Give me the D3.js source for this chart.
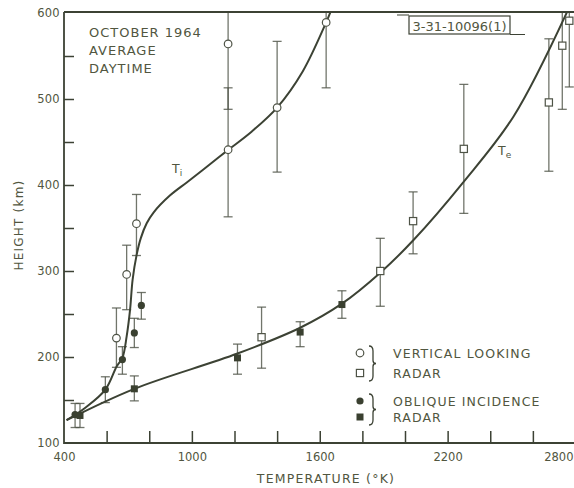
<!DOCTYPE html>
<html><head><meta charset="utf-8">
<script src="https://cdn.jsdelivr.net/npm/d3@7"></script>
<style>
html,body{margin:0;padding:0;background:#fff;}
svg{display:block;}
text{font-family:"DejaVu Sans",sans-serif;fill:#515640;}
</style></head>
<body>
<script>
// ---------- data ----------
const xTicks = [400,600,800,1000,1200,1400,1600,1800,2000,2200,2400,2600,2800];
const xTickLabels = [400,1000,1600,2200,2800];
const yTicks = [100,150,200,250,300,350,400,450,500,550,600];
const yTickLabels = [100,200,300,400,500,600];

// vertical looking radar, ion temperature (open circles): [T, H, low, high]
const viCircles = [
  [646,222,188,257],[694,296,255,330],[740,355,318,389],
  [1170,441,363,513],[1170,564,488,600],[1400,490,415,567],[1630,589,513,600]
];
// vertical looking radar, electron temperature (open squares)
const viSquares = [
  [1327,223,187,258],[1884,300,259,338],[2038,358,320,392],
  [2276,442,367,517],[2675,496,416,570],[2738,562,488,600],[2771,591,514,600]
];
// oblique incidence radar, ion (filled circles)
const obCircles = [
  [452,133,118,146],[594,162,147,177],[674,197,180,212],[730,228,211,245],[763,260,244,275]
];
// oblique incidence radar, electron (filled squares)
const obSquares = [
  [475,132,118,146],[730,163,149,178],[1214,199,180,215],[1508,229,212,241],[1704,261,245,277]
];
// fitted curves
const tiCurve = [[412,126.5],[500,141],[594,162],[647,189],[674,199],[694,224],[710,255],[722,290],
  [741,319],[760,338],[788,355.5],[820,368],[898,388],[976,403],[1054,418],[1166,440],[1280,462],
  [1400,490],[1520,532],[1630,589],[1650,601]];
const teCurve = [[412,126.5],[730,163],[1214,204],[1508,234],[1704,262],[1884,298],[2040,336],
  [2276,404],[2510,480],[2760,601]];

const legendItems = [
  {sym:"circleOpen", label:"VERTICAL LOOKING"},
  {sym:"squareOpen", label:"RADAR"},
  {sym:"circleFill", label:"OBLIQUE INCIDENCE"},
  {sym:"squareFill", label:"RADAR"}
];
const titleLines = ["OCTOBER 1964","AVERAGE","DAYTIME"];

// ---------- drawing ----------
const W=574,H=488;
const L=64,R=575.5,T=13,B=443;
const lineCol="#3c4234", barCol="#4e5346", textCol="#515640";
const x=d3.scaleLinear().domain([400,2800]).range([L,R]);
const y=d3.scaleLinear().domain([100,600]).range([B,T]);

const svg=d3.select("body").append("svg").attr("width",W).attr("height",H);
svg.append("defs").append("clipPath").attr("id","clip")
  .append("rect").attr("x",L).attr("y",T).attr("width",W-L).attr("height",B-T);

// axes with inward ticks
const xAxis=d3.axisBottom(x).tickValues(xTicks.slice(1,-1)).tickSize(-12).tickFormat("");
const gx=svg.append("g").attr("transform",`translate(0,${B})`).call(xAxis);
gx.select(".domain").remove();
gx.selectAll("line").attr("stroke",lineCol).attr("stroke-width",1.5);
const xl=d3.axisBottom(x).tickValues(xTickLabels).tickSize(0).tickPadding(10).tickFormat(d3.format("d"));
const gxl=svg.append("g").attr("transform",`translate(0,${B})`).call(xl);
gxl.select(".domain").remove();
gxl.selectAll("text").attr("font-size",11.5).attr("fill",textCol).style("font-family","DejaVu Sans");
// last label sits against the right edge of the picture
gxl.selectAll(".tick").filter(d=>d===2800).select("text").attr("text-anchor","end").attr("x",W-1-x(2800));

const yAxis=d3.axisLeft(y).tickValues(yTicks.slice(1,-1)).tickSize(-10).tickFormat("");
const gy=svg.append("g").attr("transform",`translate(${L},0)`).call(yAxis);
gy.select(".domain").remove();
gy.selectAll("line").attr("stroke",lineCol).attr("stroke-width",1.5);
const yl=d3.axisLeft(y).tickValues(yTickLabels).tickSize(0).tickPadding(4).tickFormat(d3.format("d"));
const gyl=svg.append("g").attr("transform",`translate(${L},0)`).call(yl);
gyl.select(".domain").remove();
gyl.selectAll("text").attr("font-size",11.5).attr("fill",textCol).attr("letter-spacing",0.3).style("font-family","DejaVu Sans");

// frame
svg.append("path").attr("d",`M${L},${T-1}H${W}M${L},${T-1}V${B}H${W}`)
  .attr("fill","none").attr("stroke",lineCol).attr("stroke-width",1.8);

// error bars
const pg=svg.append("g").attr("clip-path","url(#clip)");
function errBars(data){
  data.forEach(d=>{
    const cx=x(d[0]);
    pg.append("line").attr("x1",cx).attr("x2",cx).attr("y1",y(d[2])).attr("y2",y(d[3]))
      .attr("stroke",barCol).attr("stroke-width",1.3).attr("stroke-opacity",0.8);
    [d[2],d[3]].forEach(v=>{
      if(v<600) pg.append("line").attr("x1",cx-4.5).attr("x2",cx+4.5).attr("y1",y(v)).attr("y2",y(v))
        .attr("stroke",barCol).attr("stroke-width",1.3).attr("stroke-opacity",0.8);
    });
  });
}
[viCircles,viSquares,obCircles,obSquares].forEach(errBars);

// curves
const line=d3.line().x(d=>x(d[0])).y(d=>y(d[1])).curve(d3.curveCatmullRom.alpha(0.5));
[tiCurve,teCurve].forEach(c=>pg.append("path").attr("d",line(c)).attr("fill","none")
  .attr("stroke",lineCol).attr("stroke-width",2));

// markers
function marker(g,sym,cx,cy){
  if(sym==="circleOpen") g.append("circle").attr("cx",cx).attr("cy",cy).attr("r",3.8).attr("fill","#fff").attr("stroke",barCol).attr("stroke-width",1.2);
  if(sym==="circleFill") g.append("circle").attr("cx",cx).attr("cy",cy).attr("r",3.6).attr("fill","#3a4030");
  if(sym==="squareOpen") g.append("rect").attr("x",cx-3.6).attr("y",cy-3.6).attr("width",7.2).attr("height",7.2).attr("fill","#fff").attr("stroke",barCol).attr("stroke-width",1.2);
  if(sym==="squareFill") g.append("rect").attr("x",cx-3.5).attr("y",cy-3.5).attr("width",7).attr("height",7).attr("fill","#3a4030");
}
viCircles.forEach(d=>marker(pg,"circleOpen",x(d[0]),y(d[1])));
viSquares.forEach(d=>marker(pg,"squareOpen",x(d[0]),y(d[1])));
obCircles.forEach(d=>marker(pg,"circleFill",x(d[0]),y(d[1])));
obSquares.forEach(d=>marker(pg,"squareFill",x(d[0]),y(d[1])));

// curve labels
const ti=svg.append("text").attr("x",172).attr("y",173).attr("font-size",12.5);
ti.append("tspan").text("T");
ti.append("tspan").attr("dy",3).attr("font-size",9).text("i");
const te=svg.append("text").attr("x",498).attr("y",155).attr("font-size",12.5);
te.append("tspan").text("T");
te.append("tspan").attr("dy",3).attr("font-size",9).text("e");

// title block
titleLines.forEach((t,i)=>svg.append("text").attr("x",89).attr("y",36.5+i*18)
  .attr("font-size",13).attr("letter-spacing",1).text(t));

// figure id stamp
svg.append("rect").attr("x",409).attr("y",16).attr("width",101).attr("height",18)
  .attr("fill","none").attr("stroke",lineCol).attr("stroke-width",1.2);
svg.append("path").attr("d","M397,15H409M510,34.5H525").attr("stroke",lineCol).attr("stroke-width",1.2);
svg.append("text").attr("x",459.5).attr("y",30.5).attr("text-anchor","middle").attr("font-size",12.5)
  .attr("textLength",94).attr("lengthAdjust","spacingAndGlyphs").style("font-family","DejaVu Sans Condensed, DejaVu Sans").text("3-31-10096(1)");

// legend
const legY=[353,373,401,417];
const lg=svg.append("g");
legendItems.forEach((d,i)=>{
  marker(lg,d.sym,360,legY[i]);
  lg.append("text").attr("x",393).attr("y",legY[i]+5).attr("font-size",12.5).attr("letter-spacing",1.1).text(d.label);
});
function brace(x0,y0,y1){
  const ym=(y0+y1)/2;
  return `M${x0},${y0}Q${x0+4},${y0} ${x0+4},${y0+5}L${x0+4},${ym-3}Q${x0+4},${ym} ${x0+7},${ym}Q${x0+4},${ym} ${x0+4},${ym+3}L${x0+4},${y1-5}Q${x0+4},${y1} ${x0},${y1}`;
}
lg.append("path").attr("d",brace(369,346,381)).attr("fill","none").attr("stroke",lineCol).attr("stroke-width",1.3);
lg.append("path").attr("d",brace(369,394,425)).attr("fill","none").attr("stroke",lineCol).attr("stroke-width",1.3);

// axis titles
svg.append("text").attr("x",326).attr("y",483).attr("text-anchor","middle").attr("font-size",12.5)
  .attr("letter-spacing",1.2).text("TEMPERATURE (°K)");
svg.append("text").attr("transform","translate(23,225) rotate(-90)").attr("text-anchor","middle")
  .attr("font-size",12).attr("letter-spacing",1.2).text("HEIGHT (km)");
</script>
</body></html>
